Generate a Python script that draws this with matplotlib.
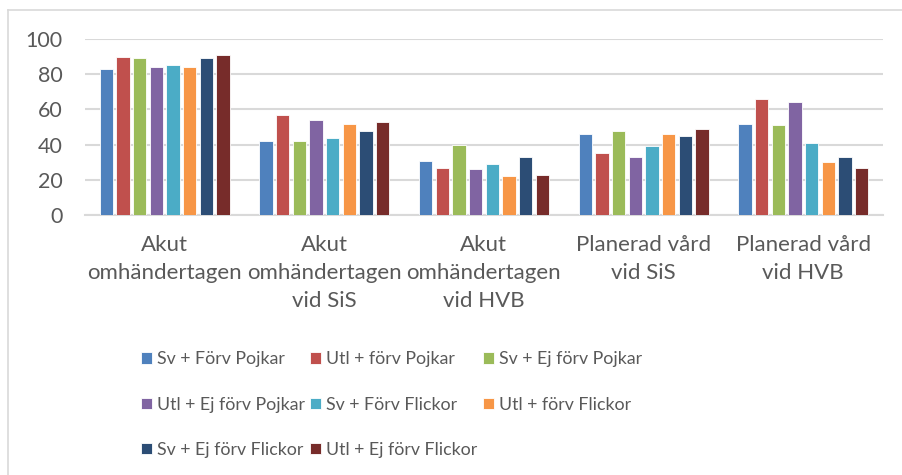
import numpy as np
import matplotlib
matplotlib.use('Agg')
import matplotlib.pyplot as plt
from matplotlib.lines import Line2D

plt.rcParams['font.family'] = ['Lato', 'DejaVu Sans']

categories = ['Akut\nomhändertagen', 'Akut\nomhändertagen\nvid SiS', 'Akut\nomhändertagen\nvid HVB',
              'Planerad vård\nvid SiS', 'Planerad vård\nvid HVB']
series = ['Sv + Förv Pojkar', 'Utl + förv Pojkar', 'Sv + Ej förv Pojkar',
          'Utl + Ej förv Pojkar', 'Sv + Förv Flickor', 'Utl + förv Flickor',
          'Sv + Ej förv Flickor', 'Utl + Ej förv Flickor']
sv_forv_p = [83, 42, 31, 46, 52]
utl_forv_p = [90, 57, 27, 35, 66]
sv_ej_p = [89, 42, 40, 48, 51]
utl_ej_p = [84, 54, 26, 33, 64]
sv_forv_f = [85, 44, 29, 39, 41]
utl_forv_f = [84, 52, 22, 46, 30]
sv_ej_f = [89, 48, 33, 45, 33]
utl_ej_f = [91, 53, 23, 49, 27]
values = [sv_forv_p, utl_forv_p, sv_ej_p, utl_ej_p, sv_forv_f, utl_forv_f, sv_ej_f, utl_ej_f]
colors = ['#4F81BD', '#C0504D', '#9BBB59', '#8064A2', '#4BACC6', '#F79646', '#2C4D75', '#772C2A']

fig = plt.figure(figsize=(9.02, 4.75), dpi=100)
ax = fig.add_axes([0.094, 0.547, 0.885, 0.371])

x = np.arange(len(categories))
group_w = 0.836
slot = group_w / 8
bars = []
for i, (vals, c) in enumerate(zip(values, colors)):
    b = ax.bar(x - group_w / 2 + slot * (i + 0.5), vals, width=slot * 0.8, color=c,
               edgecolor='white', linewidth=0.6, zorder=3, label=series[i])
    bars.append(b)

ax.set_xlim(-0.5, len(categories) - 0.5)
ax.set_ylim(0, 100)
ax.set_yticks(range(0, 101, 20))
ax.yaxis.grid(True, color='#D9D9D9', linewidth=1.5, zorder=0)
for s in ['top', 'right', 'left']:
    ax.spines[s].set_visible(False)
ax.spines['bottom'].set_color('#D9D9D9')
ax.spines['bottom'].set_linewidth(1.5)
ax.tick_params(axis='both', length=0, colors='#595959')
ax.tick_params(axis='y', pad=16, labelsize=15.5)
ax.tick_params(axis='x', pad=14, labelsize=16)
ax.set_xticks(x)
ax.set_xticklabels(categories, linespacing=1.5)

order = [0, 3, 6, 1, 4, 7, 2, 5]
handles = [bars[i] for i in order]
labels = [series[i] for i in order]
leg = fig.legend(handles, labels, ncol=3, loc='center', bbox_to_anchor=(0.434, 0.148),
                 frameon=False, fontsize=12.8, handlelength=0.6, handleheight=0.6,
                 handletextpad=0.3, labelspacing=1.65, columnspacing=0.3)
for t in leg.get_texts():
    t.set_color('#595959')

# figure border (top and left only visible)
fig.add_artist(Line2D([8 / 902, 1], [1 - 10 / 475, 1 - 10 / 475], color='#D9D9D9', linewidth=1.2))
fig.add_artist(Line2D([8 / 902, 8 / 902], [0, 1 - 10 / 475], color='#D9D9D9', linewidth=1.2))

fig.savefig('out.png', dpi=100)
